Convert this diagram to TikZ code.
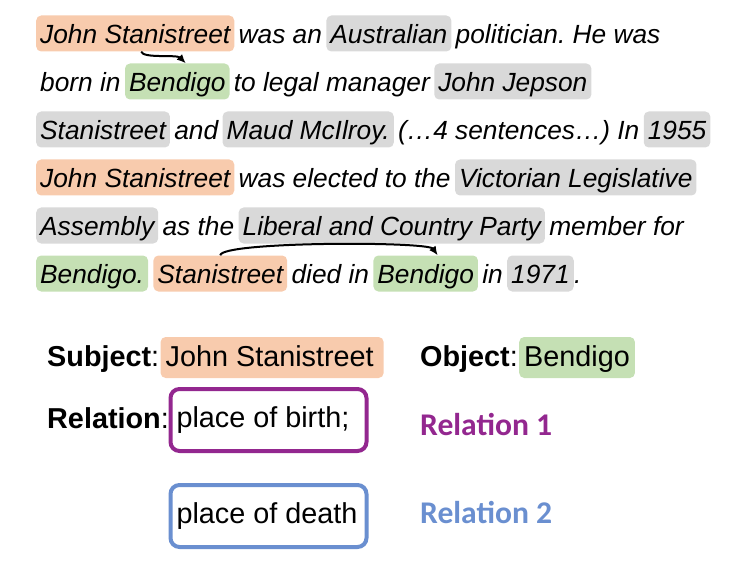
\documentclass[tikz,border=0pt]{standalone}
\usepackage{fontspec}
\setmainfont{Liberation Sans}
\newfontfamily\calibfont{Carlito}
\usetikzlibrary{arrows.meta, positioning}
\definecolor{subjfill}{HTML}{F8CBAD}
\definecolor{objfill}{HTML}{C5E0B4}
\definecolor{entfill}{HTML}{D9D9D9}
\definecolor{relone}{HTML}{93278F}
\definecolor{reltwo}{HTML}{6A8FD0}
\newcommand{\sent}{\fontsize{26.3}{31}\selectfont\itshape}
\newcommand{\labfont}{\fontsize{28.8}{34}\selectfont}
\newcommand{\fixw}[2]{\makebox[#1][l]{#2}}
\frenchspacing

\begin{document}
\begin{tikzpicture}[x=1pt, y=-1pt,
    seg/.style={anchor=base west, inner xsep=4pt, inner ysep=0pt, text height=28pt, text depth=8pt, font=\sent, rounded corners=5pt},
    subj/.style={seg, fill=subjfill},
    obj/.style={seg, fill=objfill},
    ent/.style={seg, fill=entfill},
    link/.style={-{Latex[length=9pt, width=8pt]}, line width=2pt},
    lab/.style={anchor=base west, inner sep=0pt, font=\labfont},
    labbox/.style={anchor=base west, inner xsep=5pt, inner ysep=0pt, text height=29pt, text depth=12pt, font=\labfont, rounded corners=5pt},
    relbox/.style={draw, line width=4pt, rounded corners=9pt, minimum height=62pt, inner xsep=6pt, font=\labfont},
    reltag/.style={anchor=base west, inner sep=0pt, font=\fontsize{31.6}{38}\selectfont\calibfont\bfseries}
  ]
  \useasboundingbox (0,0) rectangle (735,561);

  % passage
  \node[subj] (s1) at (36,43.5) {John Stanistreet};
  \node[seg] (w1a) at (s1.base east) {was an};
  \node[ent] (e1a) at (w1a.base east) {Australian};
  \node[seg] (w1b) at (e1a.base east) {politician. He was};

  \node[seg] (w2a) at (36,91.5) {born in};
  \node[obj] (o1) at (w2a.base east) {Bendigo};
  \node[seg] (w2b) at (o1.base east) {to legal manager};
  \node[ent] (e2a) at (w2b.base east) {John Jepson};

  \node[ent] (e3a) at (36,139.5) {Stanistreet};
  \node[seg] (w3a) at (e3a.base east) {and};
  \node[ent] (e3b) at (w3a.base east) {Maud McIlroy.};
  \node[seg] (w3b) at (e3b.base east) {(…4 sentences…) In};
  \node[ent] (e3c) at (w3b.base east) {1955};

  \node[subj] (s2) at (36,187.5) {John Stanistreet};
  \node[seg] (w4a) at (s2.base east) {was elected to the};
  \node[ent] (e4a) at (w4a.base east) {Victorian Legislative};

  \node[ent] (e5a) at (36,235.5) {Assembly};
  \node[seg] (w5a) at (e5a.base east) {as the};
  \node[ent] (e5b) at (w5a.base east) {Liberal and Country Party};
  \node[seg] (w5b) at (e5b.base east) {member for};

  \node[obj] (o2) at (36,283.5) {Bendigo.};
  \node[subj] (s3) at ([xshift=5pt]o2.base east) {Stanistreet};
  \node[seg] (w6a) at (s3.base east) {died in};
  \node[obj] (o3) at (w6a.base east) {Bendigo};
  \node[seg] (w6b) at (o3.base east) {in};
  \node[ent] (e6a) at (w6b.base east) {1971};
  \node[seg, inner xsep=0pt] (w6c) at (e6a.base east) {.};

  \draw[link] ([xshift=6pt]s1.south) .. controls +(2,7) and +(-9,-9) .. ([xshift=8.5pt]o1.north);
  \draw[link] (s3.north) .. controls +(1,-14) and +(-10,-14) .. ([xshift=12pt]o3.north);

  % triple
  \node[lab] (subjlab) at (47,366) {\textbf{Subject}:};
  \node[labbox, fill=subjfill] (subjval) at ([xshift=1pt]subjlab.base east) {\fixw{213pt}{John Stanistreet}};
  \node[lab] (objlab) at (420,366) {\textbf{Object}:};
  \node[labbox, fill=objfill] (objval) at ([xshift=1pt]objlab.base east) {Bendigo};

  \node[lab] (rellab) at (47,428) {\textbf{Relation}:};
  \node[relbox, draw=relone] (rel1box) at (268.5,420) {\fixw{184pt}{place of birth;}};
  \node[relbox, draw=reltwo, below=30pt of rel1box] (rel2box) {\fixw{184pt}{place of death}};

  \node[reltag, text=relone] (rel1tag) at (420,435) {Relation 1};
  \node[reltag, text=reltwo] (rel2tag) at (420,523) {Relation 2};
\end{tikzpicture}
\end{document}
